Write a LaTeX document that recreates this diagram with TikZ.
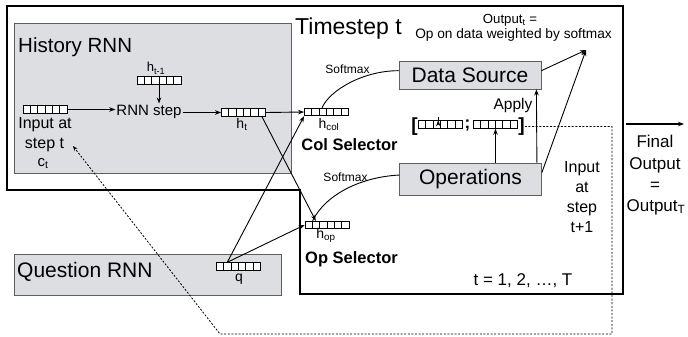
\documentclass[tikz,border=0pt]{standalone}
\usepackage{fontspec}
\setmainfont{Liberation Sans}
\usetikzlibrary{arrows.meta,calc}
\definecolor{boxgray}{RGB}{221,222,225}
\definecolor{edgegray}{RGB}{95,95,95}
\tikzset{
  vec/.style={draw, fill=white, line width=0.9pt, minimum width=44pt, minimum height=7.5pt, inner sep=0pt,
    path picture={\foreach \k in {1,...,5}{\draw[line width=0.8pt] ($(path picture bounding box.south west)!\k/6!(path picture bounding box.south east)$) -- ($(path picture bounding box.north west)!\k/6!(path picture bounding box.north east)$);}}},
  graybox/.style={draw=edgegray, fill=boxgray, line width=0.8pt, inner sep=0pt},
  opbox/.style={graybox, minimum width=142pt, minimum height=28pt, font=\fontsize{21}{24}\selectfont},
  arr/.style={-{Stealth[length=6pt,width=4.5pt]}, line width=0.9pt},
  plain/.style={line width=0.9pt},
  fbline/.style={line width=0.8pt, dash pattern=on 2pt off 1.6pt, -{Stealth[length=5pt,width=4pt]}},
  txt/.style={inner sep=0pt, font=\fontsize{#1}{#1}\selectfont},
  btxt/.style={inner sep=0pt, font=\fontsize{#1}{#1}\selectfont\bfseries},
}
\begin{document}
\begin{tikzpicture}[x=1pt,y=-1pt]
\useasboundingbox (0,0) rectangle (688,337);
% outer timestep frame
\draw[line width=1.8pt] (7,6) -- (623,6) -- (623,294) -- (300,294) -- (300,190) -- (7,190) -- cycle;
% gray containers
\node[graybox, anchor=north west, minimum width=277pt, minimum height=150pt] (hist) at (14,23) {};
\node[graybox, anchor=north west, minimum width=267pt, minimum height=41pt] (qrnn) at (14,254) {};
\node[txt=20.5, anchor=base west] (histlbl) at (18,53) {History RNN};
\node[txt=23, anchor=base west] (tslbl) at (295,35) {Timestep t};
\node[txt=21, anchor=base west] (qlbl) at (17,277) {Question RNN};
% operation boxes
\node[opbox] (ds) at (470,75) {Data Source};
\node[opbox, minimum height=32pt] (ops) at (470.5,179) {Operations};
% vectors
\node[vec] (vin) at (45,109.5) {};
\node[vec] (vprev) at (159,80.5) {};
\node[vec] (vht) at (243.5,112.5) {};
\node[vec] (vcol) at (326.5,112) {};
\node[vec] (vop) at (327,225) {};
\node[vec] (vq) at (238.5,266.5) {};
\node[vec] (vb1) at (440.5,124.5) {};
\node[vec] (vb2) at (495.5,124.5) {};
% labels
\node[txt=13, anchor=base] (lprev) at (156,72) {h\textsubscript{t-1}};
\node[txt=15, inner sep=1pt, anchor=base] (rnn) at (149,115) {RNN step};
\node[txt=16, anchor=base] (in1) at (45,128) {Input at};
\node[txt=16, anchor=base] (in2) at (44.5,148) {step t};
\node[txt=15, anchor=base] (ct) at (43,166) {c\textsubscript{t}};
\node[txt=14, anchor=base] (lht) at (242,128) {h\textsubscript{t}};
\node[txt=14, anchor=base] (lcol) at (329,128) {h\textsubscript{col}};
\node[btxt=16.5, anchor=base] (colsel) at (349.5,150) {Col Selector};
\node[txt=14, anchor=base] (lop) at (326,238) {h\textsubscript{op}};
\node[btxt=16.5, anchor=base west] (opsel) at (305,263) {Op Selector};
\node[txt=14, anchor=base] (lq) at (239,281) {q};
\node[txt=12] (sm1) at (347.5,69) {Softmax};
\node[txt=12] (sm2) at (345.5,177) {Softmax};
\node[txt=15.5, anchor=base] (apply) at (513,110) {Apply};
\node[btxt=19] (lb) at (414.5,126.5) {[};
\node[btxt=17] (semi) at (467.5,126) {;};
\node[btxt=19] (rb) at (521.5,126.5) {]};
\node[txt=13.2, anchor=base] (out1) at (510,23.5) {Output\textsubscript{t} =};
\node[txt=13.7, anchor=base] (out2) at (513.5,38.5) {Op on data weighted by softmax};
\node[txt=16, anchor=base] (nx1) at (582,172) {Input};
\node[txt=16, anchor=base] (nx2) at (582,192) {at};
\node[txt=16, anchor=base] (nx3) at (582,212) {step};
\node[txt=16, anchor=base] (nx4) at (582,232) {t+1};
\node[txt=17, anchor=base] (trange) at (523,285) {t = 1, 2, …, T};
\node[txt=17, anchor=base] (fo1) at (655,147) {Final};
\node[txt=17, anchor=base] (fo2) at (655,169) {Output};
\node[txt=17, anchor=base] (fo3) at (655,190) {=};
\node[txt=17, anchor=base] (fo4) at (656,211) {Output\textsubscript{T}};
% connectors in history RNN
\draw[arr] (vin.east) -- (vin.east -| rnn.west);
\draw[arr] (vprev.south) -- (vprev.south |- rnn.north);
\draw[arr] (rnn.east |- vht.west) -- (vht.west);
\draw[arr] (vht.east) -- (vcol.west);
\draw[arr] ($(vht.south east)+(-4,0)$) -- ($(vop.north west)!0.25!(vop.north east)$);
\coordinate (qs) at ($(vq.north west)!0.25!(vq.north east)$);
\draw[arr] (qs) -- (vcol.south west);
\draw[arr] (qs) -- (vop.west);
% softmax curves
\draw[plain] ($(ds.north west)!0.35!(ds.south west)$) .. controls +(-35,0) and +(8,-18) .. ($(vcol.north west)!0.4!(vcol.north east)$);
\draw[plain] ($(ops.north west)!0.38!(ops.south west)$) .. controls +(-40,2) and +(12,-25) .. ($(vop.north west)!0.18!(vop.north east)$);
% data/op flow
\draw[arr] ($(vb1.north west)!0.45!(vb1.north east)$ |- ds.south) -- ($(vb1.north west)!0.45!(vb1.north east)$);
\draw[arr] (vb2.south |- ops.north) -- (vb2.south);
\draw[arr] ($(ops.north east)+(-5,0)$) -- ($(ds.south east)+(-5,0)$);
\coordinate (outpt) at (586,50);
\draw[arr] ($(ds.north east)!0.35!(ds.south east)$) -- (outpt);
\draw[arr] ($(ops.north east)!0.3!(ops.south east)$) -- (outpt);
% feedback
\coordinate (fbc) at (612,334);
\coordinate (fbl) at (220,334);
\coordinate (fbend) at (73,146);
\draw[fbline] (rb.east) -| (fbc) -- (fbl) -- (fbend);
% final output arrow
\coordinate (fa) at (626,124);
\coordinate (fz) at (684,124);
\draw[arr, line width=1.3pt] (fa) -- (fz);
\end{tikzpicture}
\end{document}
